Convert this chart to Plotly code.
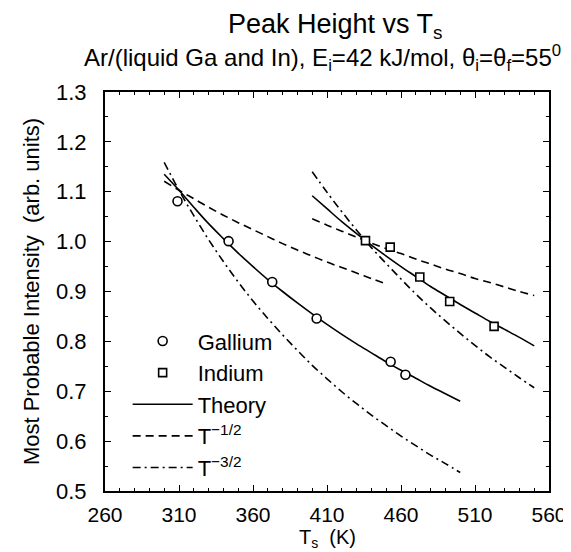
import plotly.graph_objects as go

# ---- data ----
ga_T = [309, 343.5, 373, 403, 453, 463]
ga_I = [1.081, 1.001, 0.919, 0.846, 0.759, 0.733]

in_T = [436, 452.7, 472.7, 492.9, 522.9]
in_I = [1.002, 0.989, 0.929, 0.880, 0.830]

ga_curve_T = [300, 310, 320, 330, 340, 350, 360, 370, 380, 390, 400,
              410, 420, 430, 440, 450, 460, 470, 480, 490, 500]
ga_theory = [1.135, 1.103, 1.069, 1.036, 1.006, 0.977, 0.950, 0.924, 0.900, 0.877, 0.855,
             0.834, 0.814, 0.795, 0.777, 0.759, 0.742, 0.726, 0.710, 0.695, 0.680]
ga_half_T = [300, 310, 320, 330, 340, 350, 360, 370, 380, 390, 400,
             410, 420, 430, 440, 450]
ga_half = [1.121, 1.103, 1.086, 1.069, 1.053, 1.038, 1.024, 1.010, 0.996, 0.983, 0.971,
           0.959, 0.948, 0.937, 0.926, 0.915]
ga_3half = [1.159, 1.103, 1.052, 1.004, 0.960, 0.919, 0.881, 0.846, 0.813, 0.782, 0.752,
            0.725, 0.699, 0.675, 0.652, 0.631, 0.610, 0.591, 0.572, 0.555, 0.537]

in_curve_T = [400, 410, 420, 430, 440, 450, 460, 470, 480, 490, 500,
              510, 520, 530, 540, 550]
in_theory = [1.092, 1.066, 1.040, 1.016, 0.993, 0.971, 0.950, 0.930, 0.910, 0.892, 0.874,
             0.857, 0.840, 0.824, 0.808, 0.791]
in_half = [1.046, 1.033, 1.021, 1.009, 0.997, 0.986, 0.976, 0.965, 0.955, 0.945, 0.936,
           0.926, 0.918, 0.909, 0.900, 0.892]
in_3half = [1.140, 1.099, 1.060, 1.023, 0.988, 0.956, 0.925, 0.895, 0.867, 0.841, 0.816,
            0.792, 0.769, 0.748, 0.727, 0.707]

x_ticks = [260, 310, 360, 410, 460, 510, 560]
y_ticks = [0.5, 0.6, 0.7, 0.8, 0.9, 1.0, 1.1, 1.2, 1.3]

FONT = "Liberation Sans, Arial, Helvetica, sans-serif"
BLACK = "black"
DASH = "8px,5px"
DASHDOT = "8px,4px,2px,4px"

fig = go.Figure()

def curve(x, y, name, dash, show, rank):
    fig.add_trace(go.Scatter(
        x=x, y=y, mode="lines", name=name, legendgroup=name,
        showlegend=show, legendrank=rank,
        line=dict(color=BLACK, width=1.6, dash=dash, shape="spline")))

curve(ga_curve_T, ga_theory, "Theory", "solid", True, 3)
curve(ga_half_T, ga_half, "T<sup>\u22121/2</sup>", DASH, True, 4)
curve(ga_curve_T, ga_3half, "T<sup>\u22123/2</sup>", DASHDOT, True, 5)
curve(in_curve_T, in_theory, "Theory", "solid", False, 3)
curve(in_curve_T, in_half, "T<sup>\u22121/2</sup>", DASH, False, 4)
curve(in_curve_T, in_3half, "T<sup>\u22123/2</sup>", DASHDOT, False, 5)

fig.add_trace(go.Scatter(
    x=ga_T, y=ga_I, mode="markers", name="Gallium", legendrank=1,
    marker=dict(symbol="circle", size=9, color="white",
                line=dict(color=BLACK, width=1.6))))
fig.add_trace(go.Scatter(
    x=in_T, y=in_I, mode="markers", name="Indium", legendrank=2,
    marker=dict(symbol="square", size=8, color="white",
                line=dict(color=BLACK, width=1.6))))

axis_common = dict(
    showline=True, linecolor=BLACK, linewidth=2, mirror="ticks",
    ticks="inside", ticklen=6, tickwidth=1.3, tickcolor=BLACK,
    showgrid=False, zeroline=False,
)

fig.update_xaxes(
    range=[260, 560], tickvals=x_ticks, ticklabelstandoff=4,
    tickfont=dict(family=FONT, size=21, color=BLACK),
    minor=dict(dtick=10, tick0=260, ticks="inside", ticklen=3, tickwidth=1.2,
               tickcolor=BLACK, showgrid=False),
    **axis_common)
fig.update_yaxes(
    range=[0.5, 1.3], tickvals=y_ticks, tickformat=".1f", ticklabelstandoff=12,
    tickfont=dict(family=FONT, size=22, color=BLACK),
    minor=dict(dtick=0.05, tick0=0.5, ticks="inside", ticklen=3, tickwidth=1.2,
               tickcolor=BLACK, showgrid=False),
    title=dict(text="Most Probable Intensity  (arb. units)",
               font=dict(family=FONT, size=22, color=BLACK), standoff=10),
    **axis_common)

fig.add_annotation(text="Peak Height vs T<sub>s</sub>", xref="paper", yref="paper",
                   x=0.52, y=1.0, yshift=66, showarrow=False, xanchor="center",
                   yanchor="middle", font=dict(family=FONT, size=27, color=BLACK))
fig.add_annotation(text="Ar/(liquid Ga and In), E<sub>i</sub>=42 kJ/mol, "
                        "\u03b8<sub>i</sub>=\u03b8<sub>f</sub>=55<sup>0</sup>",
                   xref="paper", yref="paper", x=0.49, y=1.0, yshift=34,
                   showarrow=False, xanchor="center", yanchor="middle",
                   font=dict(family=FONT, size=24, color=BLACK))
fig.add_annotation(text="T<sub>s</sub>  (K)", xref="paper", yref="paper",
                   x=0.5, y=0.0, yshift=-62, showarrow=False, xanchor="center",
                   yanchor="bottom", font=dict(family=FONT, size=20, color=BLACK))

fig.update_layout(
    width=571, height=552,
    margin=dict(l=97, r=24, t=84, b=69),
    paper_bgcolor="white", plot_bgcolor="white",
    showlegend=True,
    legend=dict(x=0.051, y=0.428, xanchor="left", yanchor="top",
                bgcolor="rgba(0,0,0,0)", itemwidth=60, traceorder="normal",
                font=dict(family=FONT, size=22, color=BLACK)),
)

fig.write_html("out.html")
